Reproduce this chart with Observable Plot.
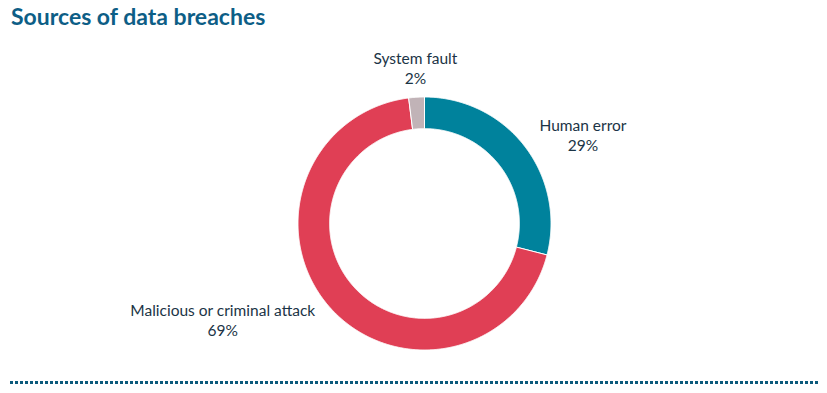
<!DOCTYPE html>
<html>
<head>
<meta charset="utf-8">
<script src="https://cdn.jsdelivr.net/npm/d3@7"></script>
<script src="https://cdn.jsdelivr.net/npm/@observablehq/plot@0.6"></script>
<style>
  html, body { margin: 0; padding: 0; background: #fff; }
  body { width: 827px; height: 393px; position: relative; overflow: hidden; font-family: Lato, "Open Sans", sans-serif; }
  #title { position: absolute; left: 11px; top: 2px; font-size: 23px; font-weight: 700; color: #0d5e86; letter-spacing: 0; }
  #chart { position: absolute; left: 0; top: 40px; }
  #rule { position: absolute; left: 10px; top: 381px; width: 808px; height: 3px;
    background: repeating-linear-gradient(to right, #0b5a7c 0 3px, transparent 3px 5px); }
</style>
</head>
<body>
<div id="title">Sources of data breaches</div>
<div id="chart"></div>
<div id="rule"></div>
<script>
const categories = ["Human error", "Malicious or criminal attack", "System fault"];
const percents = [29, 69, 2];
const percentLabels = ["29%", "69%", "2%"];
const sliceColors = ["#00829c", "#e03f55", "#c1b3b7"];

const W = 827, H = 330;
const R = 126.5;            // outer radius in px
const cx = 424, cy = 183;   // centre within svg
const innerRatio = 0.75;
const labelRadius = 1.15;
const labelFont = 15.5;

const arcs = d3.pie().sort(null).value(d => d)(percents);

// polygon points for each slice in unit coordinates (y up)
const pts = [];
arcs.forEach((a, i) => {
  const n = Math.max(4, Math.ceil((a.endAngle - a.startAngle) / 0.005));
  const ring = [];
  for (let k = 0; k <= n; k++) {
    const t = a.startAngle + (a.endAngle - a.startAngle) * k / n;
    ring.push([Math.sin(t), Math.cos(t)]);
  }
  for (let k = n; k >= 0; k--) {
    const t = a.startAngle + (a.endAngle - a.startAngle) * k / n;
    ring.push([innerRatio * Math.sin(t), innerRatio * Math.cos(t)]);
  }
  ring.push(ring[0]);
  ring.forEach(([x, y]) => pts.push({cat: categories[i], x, y}));
});

// label positions
const ctx = document.createElement("canvas").getContext("2d");
ctx.font = labelFont + "px Lato";
const labels = arcs.map((a, i) => {
  const mid = (a.startAngle + a.endAngle) / 2;
  const s = Math.sin(mid), c = Math.cos(mid);
  const w = Math.max(ctx.measureText(categories[i]).width, ctx.measureText(percentLabels[i]).width) / R;
  const side = Math.abs(s) > 0.2 ? Math.sign(s) : 0;
  const up = side === 0 ? 11 / R : 0;
  return {
    text: categories[i] + "\n" + percentLabels[i],
    x: labelRadius * s + side * w / 2,
    y: labelRadius * c + up
  };
});

const chart = Plot.plot({
  width: W,
  height: H,
  margin: 0,
  x: {domain: [-cx / R, (W - cx) / R], axis: null},
  y: {domain: [-(H - cy) / R, cy / R], axis: null},
  color: {domain: categories, range: sliceColors},
  style: {fontFamily: "Lato, 'Open Sans', sans-serif", background: "white"},
  marks: [
    Plot.line(pts, {x: "x", y: "y", z: "cat", fill: "cat", stroke: "white", strokeWidth: 1, curve: "linear"}),
    Plot.text(labels, {x: "x", y: "y", text: "text", fontSize: labelFont, lineHeight: 1.3, fill: "#1b3446", textAnchor: "middle"})
  ]
});
document.getElementById("chart").appendChild(chart);
</script>
</body>
</html>
